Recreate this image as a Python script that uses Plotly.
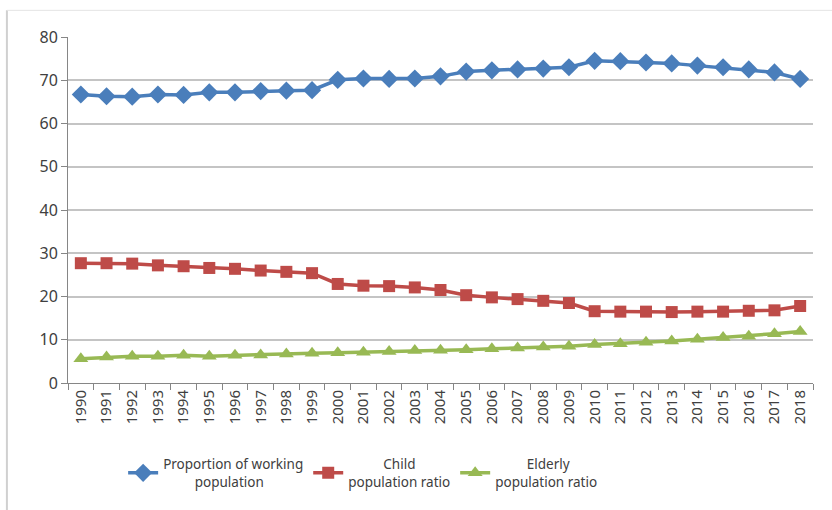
import plotly.graph_objects as go

years = [str(y) for y in range(1990, 2019)]

working = [66.7, 66.3, 66.2, 66.7, 66.6, 67.2, 67.2, 67.5, 67.6, 67.7,
           70.1, 70.4, 70.3, 70.4, 70.9, 72.0, 72.3, 72.5, 72.7, 73.0,
           74.5, 74.4, 74.1, 73.9, 73.4, 73.0, 72.5, 71.8, 70.3]

child = [27.7, 27.7, 27.6, 27.2, 27.0, 26.6, 26.4, 26.0, 25.7, 25.4,
         22.9, 22.5, 22.4, 22.1, 21.5, 20.3, 19.8, 19.4, 19.0, 18.5,
         16.6, 16.5, 16.5, 16.4, 16.5, 16.5, 16.7, 16.8, 17.8]

elderly = [5.6, 6.0, 6.2, 6.2, 6.4, 6.2, 6.4, 6.5, 6.7, 6.9,
           7.0, 7.1, 7.3, 7.5, 7.6, 7.7, 7.9, 8.1, 8.3, 8.5,
           8.9, 9.1, 9.4, 9.7, 10.1, 10.5, 10.8, 11.4, 11.9]

NB = "\u00a0"
series = [
    ("Proportion of working<br>" + NB * 9 + "population", working, "#4A7EBB", "diamond", 14),
    (NB * 10 + "Child<br>population ratio", child, "#BE4B48", "square", 12),
    (NB * 9 + "Elderly<br>population ratio", elderly, "#98B954", "triangle-up", 13),
]

fig = go.Figure()
for name, vals, color, symbol, size in series:
    fig.add_trace(go.Scatter(
        x=years, y=vals, name=name, mode="lines+markers",
        line=dict(color=color, width=3.5),
        marker=dict(symbol=symbol, size=size, color=color),
    ))

font = "Noto Sans, Open Sans, sans-serif"
fig.update_layout(
    width=832, height=510,
    margin=dict(l=68, r=19, t=37, b=123),
    paper_bgcolor="white", plot_bgcolor="white",
    font=dict(family=font, size=13, color="#404040"),
    showlegend=True,
    legend=dict(
        orientation="h", x=0.074, xanchor="left", y=-0.19, yanchor="top",
        font=dict(size=13.5, color="#404040"),
        itemwidth=30, tracegroupgap=0,
    ),
    xaxis=dict(
        type="category", tickangle=-90, tickson="boundaries",
        ticks="outside", ticklen=6, tickcolor="#868686",
        showline=True, linecolor="#868686", linewidth=1,
        showgrid=False, tickfont=dict(size=15, color="#404040"),
        range=[-0.5, len(years) - 0.5], automargin=False,
    ),
    yaxis=dict(
        range=[0, 80], dtick=10, tick0=0,
        ticks="outside", ticklen=6, tickcolor="#868686",
        showline=True, linecolor="#868686", linewidth=1,
        showgrid=True, gridcolor="#C4C4C4", gridwidth=2,
        zeroline=False, tickfont=dict(size=16, color="#404040"),
        automargin=False,
    ),
    shapes=[
        dict(type="line", xref="paper", yref="paper",
             x0=-0.082, x1=-0.082, y0=1.077, y1=-0.4,
             line=dict(color="#D0D0D0", width=2)),
        dict(type="line", xref="paper", yref="paper",
             x0=-0.082, x1=1.05, y0=1.077, y1=1.077,
             line=dict(color="#E4E4E4", width=1)),
    ],
)

fig.write_html("out.html")
